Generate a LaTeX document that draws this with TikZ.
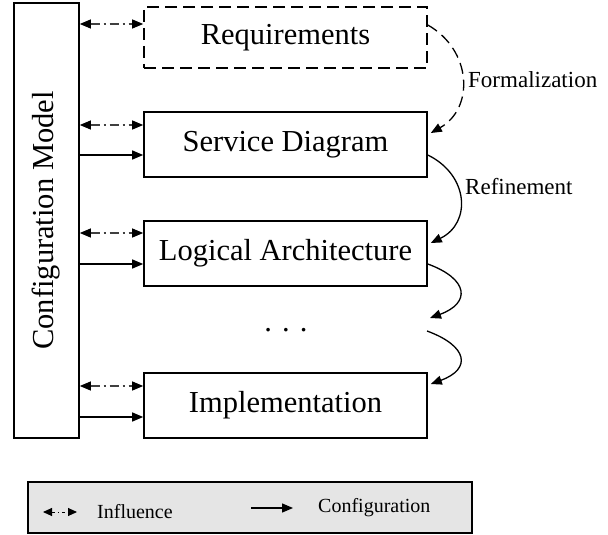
\documentclass[tikz,border=0pt]{standalone}
\usepackage{fontspec}
\setmainfont{Liberation Serif}
\usetikzlibrary{arrows.meta}
\begin{document}
\begin{tikzpicture}[x=1pt,y=-1pt,
  box/.style={draw,line width=1.6pt,minimum width=283pt,minimum height=65pt,inner sep=0pt,font=\fontsize{30.5}{32}\selectfont},
  infl/.style={draw=black!75,line width=1.1pt,dash pattern=on 9pt off 4pt on 2pt off 4pt,{Triangle[length=11pt,width=9pt,fill=black,color=black]}-{Triangle[length=11pt,width=9pt,fill=black,color=black]}},
  conf/.style={line width=1.3pt,-{Triangle[length=11pt,width=9pt]}},
  curvearrow/.style={line width=1.3pt,-{Triangle[length=11pt,width=9pt]}},
  lbl/.style={font=\fontsize{23}{25}\selectfont,inner sep=0pt,anchor=west},
  leg/.style={font=\fontsize{20}{22}\selectfont,inner sep=0pt,anchor=west}]
\useasboundingbox (0,0) rectangle (608,535);
% config model
\node[draw,line width=1.6pt,minimum width=65pt,minimum height=435pt,inner sep=0pt] (cfg) at (46.5,220.5) {};
\node[rotate=90,font=\fontsize{30.5}{32}\selectfont,inner sep=0pt] (cfgt) at (46.5,220.5) {Configuration Model};
% boxes
\node[box,dash pattern=on 12pt off 6pt,minimum height=61pt] (req) at (285.5,37.5) {Requirements};
\node[box] (svc) at (285.5,144.5) {Service Diagram};
\node[box] (log) at (285.5,253.5) {Logical Architecture};
\node[box] (imp) at (285.5,405.5) {Implementation};
\node[font=\fontsize{30.5}{32}\selectfont,inner sep=0pt,anchor=base] (dots) at (286,331) {. . .};
% influence and configuration arrows
\coordinate (reqI) at ([yshift=13.5pt]req.west);
\coordinate (svcI) at ([yshift=19.5pt]svc.west);
\coordinate (svcC) at ([yshift=-10.5pt]svc.west);
\coordinate (logI) at ([yshift=20.5pt]log.west);
\coordinate (logC) at ([yshift=-10.5pt]log.west);
\coordinate (impI) at ([yshift=19.5pt]imp.west);
\coordinate (impC) at ([yshift=-11.5pt]imp.west);
\draw[infl] (cfg.east |- reqI) -- (reqI);
\draw[infl] (cfg.east |- svcI) -- (svcI);
\draw[conf] (cfg.east |- svcC) -- (svcC);
\draw[infl] (cfg.east |- logI) -- (logI);
\draw[conf] (cfg.east |- logC) -- (logC);
\draw[infl] (cfg.east |- impI) -- (impI);
\draw[conf] (cfg.east |- impC) -- (impC);
% curved arrows
\coordinate (reqO) at ([yshift=12.5pt]req.east);
\coordinate (svcIn) at ([xshift=3pt,yshift=11.5pt]svc.east);
\coordinate (svcO) at ([yshift=-10.5pt]svc.east);
\coordinate (logIn) at ([xshift=3pt,yshift=10.5pt]log.east);
\coordinate (logO) at ([yshift=-10.5pt]log.east);
\coordinate (dotIn) at (430,318);
\coordinate (dotO) at (427,331);
\coordinate (impIn) at ([xshift=3pt,yshift=21.5pt]imp.east);
\draw[curvearrow,dash pattern=on 11pt off 6pt] (reqO) .. controls +(44,25) and +(44,-25) .. (svcIn);
\draw[curvearrow] (svcO) .. controls +(41,20) and +(41,-20) .. (logIn);
\draw[curvearrow] (logO) .. controls +(41,15) and +(41,-15) .. (dotIn);
\draw[curvearrow] (dotO) .. controls +(41,15) and +(41,-15) .. (impIn);
\node[lbl] (form) at (468,80) {Formalization};
\node[lbl] (ref) at (465,187) {Refinement};
% legend
\node[draw,line width=2.8pt,fill=black!10,minimum width=444pt,minimum height=51pt,inner sep=0pt] (legend) at (250,507.5) {};
\coordinate (lgA) at (43,512);
\coordinate (lgB) at (77,512);
\coordinate (lgC) at (251,508);
\coordinate (lgD) at (293,508);
\draw[black,line width=1pt,dash pattern=on 3pt off 3pt on 1pt off 3pt,{Triangle[length=9pt,width=8pt]}-{Triangle[length=9pt,width=8pt]}] (lgA) -- (lgB);
\draw[conf] (lgC) -- (lgD);
\node[leg] (infT) at (97,512) {Influence};
\node[leg] (confT) at (318,508) {Configuration};
\end{tikzpicture}
\end{document}
